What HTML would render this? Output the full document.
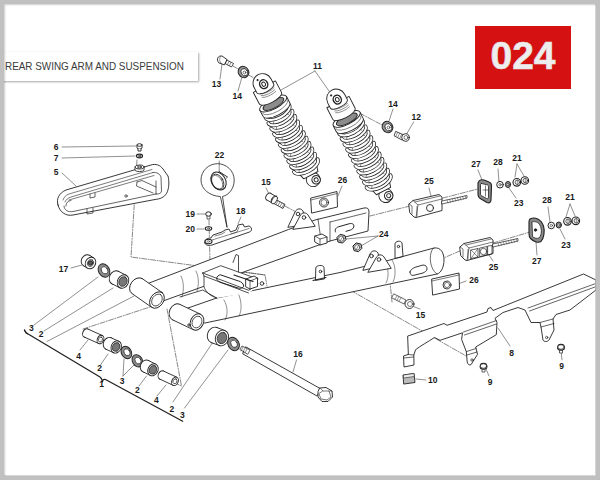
<!DOCTYPE html>
<html><head><meta charset="utf-8">
<style>
html,body{margin:0;padding:0;}
body{width:600px;height:480px;background:#fff;position:relative;overflow:hidden;font-family:"Liberation Sans",sans-serif;}
#title{position:absolute;left:-10px;top:52px;width:208px;height:29px;background:#fff;box-shadow:1px 1px 2px rgba(0,0,0,0.35);}
#title span{position:absolute;left:15px;top:7.5px;font-size:11px;color:#3a3a3a;white-space:nowrap;transform:scaleX(0.9);transform-origin:0 0;}
#badge{position:absolute;left:475px;top:26px;width:96px;height:63px;background:#d51111;}
#badge span{position:absolute;left:0;width:96px;top:11px;text-align:center;font-size:39px;font-weight:bold;color:#eeeeee;line-height:38px;-webkit-text-stroke:0.6px #e2e2e2;}
#frame{position:absolute;left:0;top:0;width:600px;height:480px;box-sizing:border-box;border-style:solid;border-color:#c0c0c0;border-width:4px;}
#frame:after{content:"";position:absolute;left:0;top:0;right:0;bottom:0;box-shadow:inset 1px 1px 2px rgba(0,0,0,0.2), inset -1px -1px 0 rgba(190,190,190,0.6);}
svg{position:absolute;left:0;top:0;}
svg .lab text{font-family:"Liberation Sans",sans-serif;font-size:8.5px;font-weight:bold;fill:#1a1a1a;stroke:none;text-anchor:middle;}
svg .ldr path{stroke:#555;stroke-width:0.65;}
svg .dsh path{stroke:#555;stroke-width:0.7;stroke-dasharray:5 1.5 1 1.5;}
svg .w{fill:#fff;}
svg .cb{stroke:#222;stroke-width:3.6;}
svg .cw{stroke:#fff;stroke-width:2.1;}
</style></head><body>
<svg width="600" height="480" viewBox="0 0 600 480" fill="none" stroke="#222" stroke-width="0.9" stroke-linejoin="round" stroke-linecap="round">
<g class="ldr"><path d="M220.0,79.0 L222.0,64.0"/><path d="M238.0,91.0 L242.0,77.0"/><path d="M315.0,71.0 L281.0,90.0"/><path d="M315.0,71.0 L329.0,91.0"/><path d="M393.0,109.0 L389.0,121.0"/><path d="M413.7,122.0 L406.3,134.5"/><path d="M62.0,147.0 L136.0,146.0"/><path d="M62.0,158.0 L135.0,156.0"/><path d="M62.0,173.0 L76.0,186.0"/><path d="M219.2,161.0 L219.2,171.0"/><path d="M266.0,188.0 L270.0,196.0"/><path d="M342.0,186.0 L338.0,196.0"/><path d="M197.0,214.0 L205.0,214.0"/><path d="M197.0,229.0 L204.0,229.0"/><path d="M241.0,217.0 L238.0,224.0"/><path d="M71.0,268.0 L82.0,265.0"/><path d="M378.0,236.0 L346.0,239.0"/><path d="M378.0,236.0 L361.0,246.0"/><path d="M429.0,188.0 L431.0,196.0"/><path d="M478.0,170.0 L482.0,180.0"/><path d="M498.0,169.0 L499.0,182.0"/><path d="M517.0,164.0 L515.0,177.0"/><path d="M517.0,164.0 L524.0,176.0"/><path d="M516.0,198.0 L509.0,188.0"/><path d="M493.0,261.0 L489.0,255.0"/><path d="M537.0,255.0 L536.0,242.0"/><path d="M548.0,207.0 L550.0,222.0"/><path d="M570.0,204.0 L566.0,217.0"/><path d="M570.0,204.0 L575.0,216.0"/><path d="M565.0,239.0 L560.0,229.0"/><path d="M466.0,281.0 L458.0,284.0"/><path d="M420.0,309.0 L412.0,306.0"/><path d="M510.0,346.0 L498.0,328.0"/><path d="M489.0,376.0 L486.0,369.0"/><path d="M562.0,360.0 L561.0,350.0"/><path d="M426.0,380.0 L416.0,379.0"/><path d="M296.5,360.0 L293.0,372.0"/><path d="M34.0,325.0 L98.0,277.0"/><path d="M44.0,331.0 L113.0,288.0"/><path d="M47.0,341.5 L134.0,296.0"/><path d="M80.0,350.0 L88.0,340.0"/><path d="M100.5,365.0 L108.0,354.0"/><path d="M123.0,376.0 L124.0,359.0"/><path d="M123.0,376.0 L134.0,365.0"/><path d="M139.0,386.0 L146.5,376.0"/><path d="M157.0,396.0 L166.0,385.0"/><path d="M173.0,402.0 L213.0,342.0"/><path d="M184.5,408.0 L228.0,350.0"/></g>
<g class="dsh"><path d="M233.0,66.0 L254.0,78.0"/><path d="M352.0,109.0 L382.0,125.0"/><path d="M137.0,160.0 L131.0,257.0 L265.0,275.0 L267.0,286.0"/><path d="M209.0,220.0 L210.0,262.0"/><path d="M83.0,329.0 L150.0,307.0"/><path d="M167.0,309.0 L181.5,386.0 L175.0,383.0"/><path d="M265.0,275.0 L200.0,266.0"/><path d="M443.0,198.0 L478.0,189.0"/><path d="M370.0,216.0 L410.0,206.0"/><path d="M493.0,243.0 L530.0,232.0"/><path d="M439.0,260.0 L462.0,250.0"/><path d="M302.0,222.0 L340.0,237.0"/><path d="M285.0,206.0 L296.0,212.0"/><path d="M388.0,262.0 L392.0,302.0"/><path d="M327.0,277.0 L468.0,357.0"/></g>
<g transform="translate(263,84) rotate(-27.7)"><circle cx="0" cy="108" r="7" class="w"/><circle cx="2.5" cy="109.5" r="4.2" class="w" stroke-width="1.1"/><circle cx="2.5" cy="109.5" r="2" class="w"/><path d="M-10,96 L-8,103 L8,103 L10,96" class="w"/><path d="M-13,30 L-13,95 L13,95 L13,30 Z" fill="#fff" stroke="none"/><path d="M-9,95.0 A9,4 0 0 1 9,95.0" stroke-width="0.5" stroke-dasharray="2 1.5"/><path d="M-13.5,92.0 A13.5,6.5 0 0 0 13.5,92.0" class="cb"/><path d="M-13.5,92.0 A13.5,6.5 0 0 0 13.5,92.0" class="cw"/><path d="M-9,88.9 A9,4 0 0 1 9,88.9" stroke-width="0.5" stroke-dasharray="2 1.5"/><path d="M-13.5,85.9 A13.5,6.5 0 0 0 13.5,85.9" class="cb"/><path d="M-13.5,85.9 A13.5,6.5 0 0 0 13.5,85.9" class="cw"/><path d="M-9,82.8 A9,4 0 0 1 9,82.8" stroke-width="0.5" stroke-dasharray="2 1.5"/><path d="M-13.5,79.8 A13.5,6.5 0 0 0 13.5,79.8" class="cb"/><path d="M-13.5,79.8 A13.5,6.5 0 0 0 13.5,79.8" class="cw"/><path d="M-9,76.7 A9,4 0 0 1 9,76.7" stroke-width="0.5" stroke-dasharray="2 1.5"/><path d="M-13.5,73.7 A13.5,6.5 0 0 0 13.5,73.7" class="cb"/><path d="M-13.5,73.7 A13.5,6.5 0 0 0 13.5,73.7" class="cw"/><path d="M-9,70.6 A9,4 0 0 1 9,70.6" stroke-width="0.5" stroke-dasharray="2 1.5"/><path d="M-13.5,67.6 A13.5,6.5 0 0 0 13.5,67.6" class="cb"/><path d="M-13.5,67.6 A13.5,6.5 0 0 0 13.5,67.6" class="cw"/><path d="M-9,64.5 A9,4 0 0 1 9,64.5" stroke-width="0.5" stroke-dasharray="2 1.5"/><path d="M-13.5,61.5 A13.5,6.5 0 0 0 13.5,61.5" class="cb"/><path d="M-13.5,61.5 A13.5,6.5 0 0 0 13.5,61.5" class="cw"/><path d="M-9,58.4 A9,4 0 0 1 9,58.4" stroke-width="0.5" stroke-dasharray="2 1.5"/><path d="M-13.5,55.4 A13.5,6.5 0 0 0 13.5,55.4" class="cb"/><path d="M-13.5,55.4 A13.5,6.5 0 0 0 13.5,55.4" class="cw"/><path d="M-9,52.3 A9,4 0 0 1 9,52.3" stroke-width="0.5" stroke-dasharray="2 1.5"/><path d="M-13.5,49.3 A13.5,6.5 0 0 0 13.5,49.3" class="cb"/><path d="M-13.5,49.3 A13.5,6.5 0 0 0 13.5,49.3" class="cw"/><path d="M-9,46.2 A9,4 0 0 1 9,46.2" stroke-width="0.5" stroke-dasharray="2 1.5"/><path d="M-13.5,43.2 A13.5,6.5 0 0 0 13.5,43.2" class="cb"/><path d="M-13.5,43.2 A13.5,6.5 0 0 0 13.5,43.2" class="cw"/><path d="M-9,40.1 A9,4 0 0 1 9,40.1" stroke-width="0.5" stroke-dasharray="2 1.5"/><path d="M-13.5,37.1 A13.5,6.5 0 0 0 13.5,37.1" class="cb"/><path d="M-13.5,37.1 A13.5,6.5 0 0 0 13.5,37.1" class="cw"/><path d="M-9,34.0 A9,4 0 0 1 9,34.0" stroke-width="0.5" stroke-dasharray="2 1.5"/><path d="M-13.5,31.0 A13.5,6.5 0 0 0 13.5,31.0" class="cb"/><path d="M-13.5,31.0 A13.5,6.5 0 0 0 13.5,31.0" class="cw"/><path d="M-15,22 L-15,29 A15,5.5 0 0 0 15,29 L15,22 Z" class="w"/><path d="M-14,26 A14,5 0 0 0 14,26" stroke-width="0.5"/><ellipse cx="0" cy="22" rx="15" ry="5.5" class="w"/><ellipse cx="0" cy="22.5" rx="11.5" ry="4.2" fill="#8c8c8c" stroke="#222"/><path d="M-12.5,3 L-12.5,16 A12.5,4.5 0 0 0 12.5,16 L12.5,3 Z" class="w"/><path d="M-7,3.5 A9,3 0 0 0 8,4.5" stroke-width="0.45"/><path d="M-7,5.5 A9,3 0 0 0 8,6.5" stroke-width="0.45"/><path d="M-7,7.5 A9,3 0 0 0 8,8.5" stroke-width="0.45"/><path d="M-7,9.5 A9,3 0 0 0 8,10.5" stroke-width="0.45"/><path d="M-7,11.5 A9,3 0 0 0 8,12.5" stroke-width="0.45"/><path d="M-9.5,5 L-9.5,-1 A9.5,9.5 0 0 1 9.5,-1 L9.5,5 A9.5,3.5 0 0 1 -9.5,5 Z" class="w"/><ellipse cx="0.5" cy="0.5" rx="4" ry="4.5" class="w" stroke-width="1.4"/><ellipse cx="0.5" cy="0.5" rx="1.8" ry="2.2"/><circle cx="-3" cy="-6" r="0.6" fill="#222"/></g>
<g transform="translate(336.6,99.4) rotate(-27.1)"><circle cx="0" cy="108" r="7" class="w"/><circle cx="2.5" cy="109.5" r="4.2" class="w" stroke-width="1.1"/><circle cx="2.5" cy="109.5" r="2" class="w"/><path d="M-10,96 L-8,103 L8,103 L10,96" class="w"/><path d="M-13,30 L-13,95 L13,95 L13,30 Z" fill="#fff" stroke="none"/><path d="M-9,95.0 A9,4 0 0 1 9,95.0" stroke-width="0.5" stroke-dasharray="2 1.5"/><path d="M-13.5,92.0 A13.5,6.5 0 0 0 13.5,92.0" class="cb"/><path d="M-13.5,92.0 A13.5,6.5 0 0 0 13.5,92.0" class="cw"/><path d="M-9,88.9 A9,4 0 0 1 9,88.9" stroke-width="0.5" stroke-dasharray="2 1.5"/><path d="M-13.5,85.9 A13.5,6.5 0 0 0 13.5,85.9" class="cb"/><path d="M-13.5,85.9 A13.5,6.5 0 0 0 13.5,85.9" class="cw"/><path d="M-9,82.8 A9,4 0 0 1 9,82.8" stroke-width="0.5" stroke-dasharray="2 1.5"/><path d="M-13.5,79.8 A13.5,6.5 0 0 0 13.5,79.8" class="cb"/><path d="M-13.5,79.8 A13.5,6.5 0 0 0 13.5,79.8" class="cw"/><path d="M-9,76.7 A9,4 0 0 1 9,76.7" stroke-width="0.5" stroke-dasharray="2 1.5"/><path d="M-13.5,73.7 A13.5,6.5 0 0 0 13.5,73.7" class="cb"/><path d="M-13.5,73.7 A13.5,6.5 0 0 0 13.5,73.7" class="cw"/><path d="M-9,70.6 A9,4 0 0 1 9,70.6" stroke-width="0.5" stroke-dasharray="2 1.5"/><path d="M-13.5,67.6 A13.5,6.5 0 0 0 13.5,67.6" class="cb"/><path d="M-13.5,67.6 A13.5,6.5 0 0 0 13.5,67.6" class="cw"/><path d="M-9,64.5 A9,4 0 0 1 9,64.5" stroke-width="0.5" stroke-dasharray="2 1.5"/><path d="M-13.5,61.5 A13.5,6.5 0 0 0 13.5,61.5" class="cb"/><path d="M-13.5,61.5 A13.5,6.5 0 0 0 13.5,61.5" class="cw"/><path d="M-9,58.4 A9,4 0 0 1 9,58.4" stroke-width="0.5" stroke-dasharray="2 1.5"/><path d="M-13.5,55.4 A13.5,6.5 0 0 0 13.5,55.4" class="cb"/><path d="M-13.5,55.4 A13.5,6.5 0 0 0 13.5,55.4" class="cw"/><path d="M-9,52.3 A9,4 0 0 1 9,52.3" stroke-width="0.5" stroke-dasharray="2 1.5"/><path d="M-13.5,49.3 A13.5,6.5 0 0 0 13.5,49.3" class="cb"/><path d="M-13.5,49.3 A13.5,6.5 0 0 0 13.5,49.3" class="cw"/><path d="M-9,46.2 A9,4 0 0 1 9,46.2" stroke-width="0.5" stroke-dasharray="2 1.5"/><path d="M-13.5,43.2 A13.5,6.5 0 0 0 13.5,43.2" class="cb"/><path d="M-13.5,43.2 A13.5,6.5 0 0 0 13.5,43.2" class="cw"/><path d="M-9,40.1 A9,4 0 0 1 9,40.1" stroke-width="0.5" stroke-dasharray="2 1.5"/><path d="M-13.5,37.1 A13.5,6.5 0 0 0 13.5,37.1" class="cb"/><path d="M-13.5,37.1 A13.5,6.5 0 0 0 13.5,37.1" class="cw"/><path d="M-9,34.0 A9,4 0 0 1 9,34.0" stroke-width="0.5" stroke-dasharray="2 1.5"/><path d="M-13.5,31.0 A13.5,6.5 0 0 0 13.5,31.0" class="cb"/><path d="M-13.5,31.0 A13.5,6.5 0 0 0 13.5,31.0" class="cw"/><path d="M-15,22 L-15,29 A15,5.5 0 0 0 15,29 L15,22 Z" class="w"/><path d="M-14,26 A14,5 0 0 0 14,26" stroke-width="0.5"/><ellipse cx="0" cy="22" rx="15" ry="5.5" class="w"/><ellipse cx="0" cy="22.5" rx="11.5" ry="4.2" fill="#8c8c8c" stroke="#222"/><path d="M-12.5,3 L-12.5,16 A12.5,4.5 0 0 0 12.5,16 L12.5,3 Z" class="w"/><path d="M-7,3.5 A9,3 0 0 0 8,4.5" stroke-width="0.45"/><path d="M-7,5.5 A9,3 0 0 0 8,6.5" stroke-width="0.45"/><path d="M-7,7.5 A9,3 0 0 0 8,8.5" stroke-width="0.45"/><path d="M-7,9.5 A9,3 0 0 0 8,10.5" stroke-width="0.45"/><path d="M-7,11.5 A9,3 0 0 0 8,12.5" stroke-width="0.45"/><path d="M-9.5,5 L-9.5,-1 A9.5,9.5 0 0 1 9.5,-1 L9.5,5 A9.5,3.5 0 0 1 -9.5,5 Z" class="w"/><ellipse cx="0.5" cy="0.5" rx="4" ry="4.5" class="w" stroke-width="1.4"/><ellipse cx="0.5" cy="0.5" rx="1.8" ry="2.2"/><circle cx="-3" cy="-6" r="0.6" fill="#222"/></g>
<g><path class="w" d="M58,205 C56,199 59,193 66,190 L151,165 C156,163.5 160,165 163,169 L168,176 C169.5,182 169,189 166.5,193.5 C164,197.5 160,199 155,199.5 L73,215 C66,216.5 59.5,212 58,205 Z"/><path d="M63,200 C64,197 66,195 69,194 L152,169.5 M65,202 C66,199.5 68,198 71,197 L153,172.5 M69,200 L154,175.5" stroke-width="0.6"/><path d="M66,206 C66,203 67.5,201 71,200.5 M64,206 C64,210 68,212.5 73,211.5 L156,194" stroke-width="0.7"/><path d="M153,172.5 C157,172 160,174 161,177 L161.5,191 C161.5,193 159,194.5 156,194 M156,181 L156,194" stroke-width="0.7"/><path d="M137,182 L142,180.5 L156,187 M137,182 L136.5,186 L153,193" stroke-width="0.7"/><path d="M90,194 L90,198 L95,197 L95,193" stroke-width="0.7"/><path d="M87,209 L87,214 L93,213 L93,208" stroke-width="0.7"/><circle cx="126" cy="196" r="1.2" stroke-width="0.7"/><path d="M135,167 L135,170 C135,172 144,172 144,170 L144,167" class="w"/><ellipse cx="139.5" cy="167" rx="4.5" ry="2" class="w"/><ellipse cx="139.5" cy="167" rx="2" ry="1" /><path d="M137,145 L137,148 C137,149.5 142,149.5 142,148 L142,145" class="w"/><ellipse cx="139.5" cy="145" rx="2.5" ry="1.3" class="w"/><path d="M138,149 L138,151 L141,151 L141,149" class="w"/><ellipse cx="139.5" cy="156" rx="3" ry="1.8" class="w" stroke-width="1.2"/><ellipse cx="139.5" cy="156" rx="1" ry="0.7"/></g>
<g><path class="w" d="M144,285 L288.5,229.5 L315,220 L364,208 Q369,207 369,212 L368,231 L330,241 L163,301 Z"/><path d="M330,222 L330,241 M330,222 L366,213 M318,219 L321,240" stroke-width="0.7"/><path d="M346,231.3 L350.5,230 C354,229 355,225 352.5,223.8 C351.5,223.3 350,223.5 349,223.8 L338.5,226.8 C335.5,227.6 334.5,230.5 335.5,232" stroke-width="1"/><path d="M181,276 C184,282 184,290 182,297 M196,271 C199,277 199,285 197,291" stroke-width="0.5"/><path class="w" d="M315,236 L322,234 L327,237 L327,243 L320,245 L315,242 Z"/><path d="M315,236 L320,239 L327,237 M320,239 L320,245" stroke-width="0.7"/><path class="w" d="M288,227 L295,212 C297,208 301,208 303,211 L306,224 Z"/><path class="w" d="M293,229 L300,216 C302,212 306,212 308,215 L315,226 Z"/><circle cx="298" cy="214" r="1.8"/><circle cx="304" cy="217.5" r="1.8"/><path class="w" d="M188,308 L216.7,298 L340,272.5 L388,260.5 L434,248 C441,247 444,253 444,260 C444,267 441,273 437,274 L205,323 Z"/><path d="M434,248 C429,250 428,268 437,274" stroke-width="0.7"/><path d="M224,300 C228,307 228,315 225,320 M238,293 C242,301 242,311 239,316 M385,262 C389,268 389,278 386,283 M392,260 C396,266 396,276 393,282" stroke-width="0.5"/><path d="M410,272 C410,270 413,268 416,267 L423,265 C426,265 427,267 427,269 C427,271 425,272 423,273 L415,275 C412,276 410,275 410,272 Z" stroke-width="0.9"/><path class="w" d="M395,258 L395,244 C395,241 401,240 402,243 L403,256 Z"/><circle cx="398.5" cy="246.5" r="1.2"/><path class="w" d="M315.5,280 L315.8,268 C316,265 323.5,264.5 324,267.5 L324.5,278.5 Z"/><circle cx="320.5" cy="271.5" r="1.3"/><path d="M313,280.5 L326,277.5" stroke-width="1.1"/><path class="w" d="M363,270 L370,254 C372,250 376,250 378,253 L381,266 Z"/><path class="w" d="M368,272 L376,258 C378,254 382,254 384,257 L391,268 Z"/><circle cx="371.5" cy="256" r="1.8"/><circle cx="379" cy="259.5" r="1.8"/><path class="w" d="M202.7,273 L220.7,265.7 L258,279 L257,287 L248.7,293 L216.7,298 L204,288 Z" stroke="none"/><path d="M202.7,273 L220.7,265.7 L258,279 M202.7,273 L248.7,290.3 L258,284 M204,276 L248.5,293 M202.7,273 L204,276 L204,287 C206,292 210,296 216.7,298 M180,297 L202.7,290 L216.7,298" stroke-width="0.8"/><path class="w" d="M233,262.5 L236,254.5 L238.5,255.5 L238.5,272" stroke-width="0.8"/><path d="M218,276 C215,278 217,281 221,282.5 L238,288 C242,289 245,287 243,284 C242,282 239,281 237,280.5 L221,275 C220,274.5 219,275 218,276 Z" stroke-width="1"/><path class="w" d="M246,279 L254,276 L257.5,278 L257.5,286.5 L250,289 L246,287 Z"/><path d="M246,279 L250,281 L257.5,278 M250,281 L250,289" stroke-width="0.7"/><circle cx="262" cy="283.5" r="1.8"/><path d="M234,275 L253,281.5" stroke-width="1.2"/><ellipse cx="137.0" cy="286.0" rx="9" ry="6.5" transform="rotate(-55.0 137.0 286.0)" class="w"/><path d="M142.2,278.6 L162.2,292.6 L151.8,307.4 L131.8,293.4 Z" class="w" stroke="none"/><path d="M142.2,278.6 L162.2,292.6 M131.8,293.4 L151.8,307.4"/><ellipse cx="157.0" cy="300.0" rx="9" ry="6.5" transform="rotate(-55.0 157.0 300.0)" class="w"/><ellipse cx="157.0" cy="300.0" rx="6.5" ry="4.7" transform="rotate(-55.0 157.0 300.0)" stroke-width="0.7"/><ellipse cx="176.0" cy="312.0" rx="8.5" ry="6.5" transform="rotate(-64.5 176.0 312.0)" class="w"/><path d="M179.7,304.3 L200.7,314.3 L193.3,329.7 L172.3,319.7 Z" class="w" stroke="none"/><path d="M179.7,304.3 L200.7,314.3 M172.3,319.7 L193.3,329.7"/><ellipse cx="197.0" cy="322.0" rx="8.5" ry="6.5" transform="rotate(-64.5 197.0 322.0)" class="w"/><ellipse cx="197.0" cy="322.0" rx="6.1" ry="4.7" transform="rotate(-64.5 197.0 322.0)" stroke-width="0.7"/><circle cx="189" cy="325" r="1.2"/></g>
<g><ellipse cx="86.5" cy="260.5" rx="6" ry="5" transform="rotate(-58.0 86.5 260.5)" class="w"/><path d="M89.7,255.4 L93.7,257.9 L87.3,268.1 L83.3,265.6 Z" class="w" stroke="none"/><path d="M89.7,255.4 L93.7,257.9 M83.3,265.6 L87.3,268.1"/><ellipse cx="90.5" cy="263.0" rx="6" ry="5" transform="rotate(-58.0 90.5 263.0)" class="w"/><ellipse cx="90.5" cy="263" rx="3.6" ry="3.0" transform="rotate(-58.0 90.5 263)" stroke-width="0.7"/><circle cx="90.5" cy="263" r="2.3" fill="#555"/><ellipse cx="104" cy="270.5" rx="5.5" ry="7" transform="rotate(-30 104 270.5)" fill="#8a8a8a" stroke="#222"/><ellipse cx="104.6" cy="270.5" rx="3.0" ry="3.9" transform="rotate(-30 104 270.5)" class="w" stroke-width="0.7"/><ellipse cx="115.0" cy="277.5" rx="7" ry="5.5" transform="rotate(-63.4 115.0 277.5)" class="w"/><path d="M118.1,271.2 L126.1,275.2 L119.9,287.8 L111.9,283.8 Z" class="w" stroke="none"/><path d="M118.1,271.2 L126.1,275.2 M111.9,283.8 L119.9,287.8"/><ellipse cx="123.0" cy="281.5" rx="7" ry="5.5" transform="rotate(-63.4 123.0 281.5)" class="w"/><ellipse cx="123" cy="281.5" rx="5.0" ry="4.0" transform="rotate(-63.4 123 281.5)" fill="#777" stroke="#222" stroke-width="0.7"/><ellipse cx="86.0" cy="333.0" rx="4.4" ry="3.2" transform="rotate(-65.9 86.0 333.0)" class="w"/><path d="M87.8,329.0 L102.3,335.5 L98.7,343.5 L84.2,337.0 Z" class="w" stroke="none"/><path d="M87.8,329.0 L102.3,335.5 M84.2,337.0 L98.7,343.5"/><ellipse cx="100.5" cy="339.5" rx="4.4" ry="3.2" transform="rotate(-65.9 100.5 339.5)" class="w"/><ellipse cx="100.5" cy="339.5" rx="2.6" ry="1.9" transform="rotate(-65.9 100.5 339.5)" stroke-width="0.7"/><ellipse cx="108.5" cy="343.5" rx="6.3" ry="5" transform="rotate(-65.6 108.5 343.5)" class="w"/><path d="M111.1,337.8 L118.8,341.3 L113.6,352.7 L105.9,349.2 Z" class="w" stroke="none"/><path d="M111.1,337.8 L118.8,341.3 M105.9,349.2 L113.6,352.7"/><ellipse cx="116.2" cy="347.0" rx="6.3" ry="5" transform="rotate(-65.6 116.2 347.0)" class="w"/><ellipse cx="116.2" cy="347" rx="4.5" ry="3.6" transform="rotate(-65.6 116.2 347)" fill="#777" stroke="#222" stroke-width="0.7"/><ellipse cx="126.4" cy="352.5" rx="5" ry="6.5" transform="rotate(-30 126.4 352.5)" fill="#8a8a8a" stroke="#222"/><ellipse cx="127.0" cy="352.5" rx="2.8" ry="3.6" transform="rotate(-30 126.4 352.5)" class="w" stroke-width="0.7"/><ellipse cx="137.4" cy="360.8" rx="5" ry="6.5" transform="rotate(-30 137.4 360.8)" fill="#8a8a8a" stroke="#222"/><ellipse cx="138.0" cy="360.8" rx="2.8" ry="3.6" transform="rotate(-30 137.4 360.8)" class="w" stroke-width="0.7"/><ellipse cx="145.5" cy="366.0" rx="6.3" ry="5" transform="rotate(-63.1 145.5 366.0)" class="w"/><path d="M148.3,360.4 L155.8,364.2 L150.2,375.4 L142.7,371.6 Z" class="w" stroke="none"/><path d="M148.3,360.4 L155.8,364.2 M142.7,371.6 L150.2,375.4"/><ellipse cx="153.0" cy="369.8" rx="6.3" ry="5" transform="rotate(-63.1 153.0 369.8)" class="w"/><ellipse cx="153" cy="369.8" rx="4.5" ry="3.6" transform="rotate(-63.1 153 369.8)" fill="#777" stroke="#222" stroke-width="0.7"/><ellipse cx="161.5" cy="375.0" rx="4.4" ry="3.2" transform="rotate(-65.0 161.5 375.0)" class="w"/><path d="M163.4,371.0 L176.9,377.3 L173.1,385.3 L159.6,379.0 Z" class="w" stroke="none"/><path d="M163.4,371.0 L176.9,377.3 M159.6,379.0 L173.1,385.3"/><ellipse cx="175.0" cy="381.3" rx="4.4" ry="3.2" transform="rotate(-65.0 175.0 381.3)" class="w"/><ellipse cx="175" cy="381.3" rx="2.6" ry="1.9" transform="rotate(-65.0 175 381.3)" stroke-width="0.7"/><ellipse cx="214.0" cy="335.0" rx="8" ry="6.5" transform="rotate(-69.4 214.0 335.0)" class="w"/><path d="M216.8,327.5 L224.8,330.5 L219.2,345.5 L211.2,342.5 Z" class="w" stroke="none"/><path d="M216.8,327.5 L224.8,330.5 M211.2,342.5 L219.2,345.5"/><ellipse cx="222.0" cy="338.0" rx="8" ry="6.5" transform="rotate(-69.4 222.0 338.0)" class="w"/><ellipse cx="222" cy="338" rx="5.8" ry="4.7" transform="rotate(-69.4 222 338)" fill="#777" stroke="#222" stroke-width="0.7"/><ellipse cx="233.5" cy="344" rx="5.5" ry="7" transform="rotate(-30 233.5 344)" fill="#8a8a8a" stroke="#222"/><ellipse cx="234.1" cy="344" rx="3.0" ry="3.9" transform="rotate(-30 233.5 344)" class="w" stroke-width="0.7"/><path class="w" d="M246,347 L321,389 L317,396 L243,354 Z"/><path class="w" d="M240,349 L242,346 L250,350 L248,354 Z" stroke-width="0.7"/><path d="M243,347 L241,351 M245,348 L243,352 M247,349 L245,353" stroke-width="0.5"/><path class="w" d="M320,388 L326,387.5 L332,391 L332.5,397 L328,401.5 L322,401.5 L318,397 L318,392 Z"/><path d="M323,391 L329,391 L331,397 L327,400 L321,399 L319,394 Z" stroke-width="0.6"/><path d="M320,388 L323,391 M332,391 L329,391" stroke-width="0.5"/><path d="M24.5,330 C25,332 26.5,333.5 29,334.5 L100,377 C101.5,378 102,379.5 102.5,381.5 C103,379.5 104,379 105.5,379.5 L182.7,421.3" stroke-width="1.3" stroke="#222"/><path class="w" d="M225,59 L233.5,63.5 L231.5,67 L223,62.5 Z" stroke-width="0.8"/><path d="M227,60.5 L225.5,63.5 M229,61.5 L227.5,64.5 M231,62.5 L229.5,65.5" stroke-width="0.5"/><path class="w" d="M218.5,62.5 C216,59 218,55.5 222,56 L227,59.5 L224.5,64.5 Z" stroke-width="0.9"/><path d="M220.5,56.5 C219,59 219.5,62 221.5,63.5" stroke-width="0.5"/><ellipse cx="243.5" cy="72" rx="5.2" ry="5.8" transform="rotate(-30 243.5 72)" fill="#999" stroke="#222" stroke-width="1"/><ellipse cx="244.3" cy="72.2" rx="3.2" ry="3.8" transform="rotate(-30 244.3 72.2)" class="w" stroke-width="0.8"/><circle cx="244.5" cy="72.5" r="1.4" stroke-width="0.6"/><ellipse cx="387.5" cy="127" rx="5.2" ry="5.8" transform="rotate(-30 387.5 127)" fill="#999" stroke="#222" stroke-width="1"/><ellipse cx="388.3" cy="127.2" rx="3.2" ry="3.8" transform="rotate(-30 388.3 127.2)" class="w" stroke-width="0.8"/><circle cx="388.5" cy="127.5" r="1.4" stroke-width="0.6"/><path class="w" d="M396,131.5 L404,135 L402,140 L394.5,136 Z" stroke-width="0.8"/><path d="M397.5,132.5 L396,136 M399.5,133.5 L398,137 M401.5,134.5 L400,138" stroke-width="0.5"/><circle cx="405.5" cy="137.5" r="3.8" class="w"/><circle cx="406" cy="137.5" r="2" stroke-width="0.6"/><path class="w" d="M274,198.5 L285,204.5 L283,208.5 L272,202.5 Z" stroke-width="0.8"/><path d="M278,201 L276,204.5 M280,202 L278,205.5 M282,203 L280,206.5 M284,204 L282,207.5" stroke-width="0.5"/><ellipse cx="268.5" cy="196.5" rx="3.8" ry="2.3" transform="rotate(-59.8 268.5 196.5)" class="w"/><path d="M270.4,193.2 L275.9,196.4 L272.1,203.0 L266.6,199.8 Z" class="w" stroke="none"/><path d="M270.4,193.2 L275.9,196.4 M266.6,199.8 L272.1,203.0"/><ellipse cx="274.0" cy="199.7" rx="3.8" ry="2.3" transform="rotate(-59.8 274.0 199.7)" class="w"/><ellipse cx="274.5" cy="200" rx="4.3" ry="2.2" transform="rotate(-60 274.5 200)" class="w" stroke-width="0.8"/><path class="w" d="M394,294 L406,300 L404,304 L392,298 Z" stroke-width="0.7"/><path d="M397,296 L395,299 M399,297 L397,300 M401,298 L399,301" stroke-width="0.5"/><circle cx="409.5" cy="304" r="4.5" class="w"/><circle cx="410" cy="304" r="2.5" stroke-width="0.6"/><polygon points="345.7,239.9 342.5,243.1 338.0,242.0 336.9,237.5 340.1,234.3 344.6,235.4" fill="#c8c8c8" stroke="#222" stroke-width="1"/><circle cx="341.3" cy="238.7" r="2.6" class="w" stroke-width="0.6"/><path d="M340.3,240.7 L342.8,236.7" stroke-width="0.5"/><polygon points="361.7,248.5 358.5,251.7 354.0,250.6 352.9,246.1 356.1,242.9 360.6,244.0" fill="#c8c8c8" stroke="#222" stroke-width="1"/><circle cx="357.3" cy="247.3" r="2.6" class="w" stroke-width="0.6"/><path d="M356.3,249.3 L358.8,245.3" stroke-width="0.5"/><path class="w" d="M311,198 L337,191.5 L337.5,207 L312,213 Z"/><path d="M311,200 L337,193.5" stroke-width="0.6"/><circle cx="324" cy="202.5" r="4.5"/><circle cx="324" cy="202.5" r="3" stroke-width="0.6"/><path class="w" d="M432,279 L459,273 L459.5,289 L433,295 Z"/><path d="M432,281 L459,275" stroke-width="0.6"/><circle cx="447" cy="285" r="4"/><circle cx="447" cy="285" r="2.6" stroke-width="0.6"/><g transform="translate(409,195)"><path class="w" d="M0,9 L4,5.5 L30,-0.5 L33,2 L33,15.5 L7,22.5 L5,22 L1,18 Z"/><path d="M4,5.5 L9,10 L33,4 M9,10 L7,22.5 M0,9 L3,11 L3,19 M6,7 L31,1 M8,11.5 L8,21" stroke-width="0.6"/><circle cx="21" cy="13" r="3.5"/><path class="w" d="M33,6 L58,0.5 L58,3 L33,9 Z" stroke-width="0.7"/><path d="M38.0,5.0 L39.0,8.0" stroke-width="0.4"/><path d="M40.6,4.4 L41.6,7.4" stroke-width="0.4"/><path d="M43.2,3.8 L44.2,6.8" stroke-width="0.4"/><path d="M45.8,3.2 L46.8,6.2" stroke-width="0.4"/><path d="M48.4,2.6 L49.4,5.6" stroke-width="0.4"/><path d="M51.0,2.0 L52.0,5.0" stroke-width="0.4"/><path d="M53.6,1.4 L54.6,4.4" stroke-width="0.4"/><path d="M56.2,0.8 L57.2,3.8" stroke-width="0.4"/></g><g transform="translate(460,238)"><path class="w" d="M0,9 L4,5.5 L30,-0.5 L33,2 L33,15.5 L7,22.5 L5,22 L1,18 Z"/><path d="M4,5.5 L9,10 L33,4 M9,10 L7,22.5 M0,9 L3,11 L3,19 M6,7 L31,1 M8,11.5 L8,21" stroke-width="0.6"/><path d="M11,12 L18,10.5 L18,19 L11,20.5 Z M20,10 L27,8.5 L27,17 L20,18.5 Z M28,8 L32,7.5 L32,16 L28,17 Z" stroke-width="0.7"/><path d="M11,12 L18,19 M18,10.5 L11,20.5" stroke-width="0.5"/><circle cx="23.5" cy="13.5" r="3.2" stroke-width="0.7"/><path class="w" d="M33,6 L58,0.5 L58,3 L33,9 Z" stroke-width="0.7"/><path d="M38.0,5.0 L39.0,8.0" stroke-width="0.4"/><path d="M40.6,4.4 L41.6,7.4" stroke-width="0.4"/><path d="M43.2,3.8 L44.2,6.8" stroke-width="0.4"/><path d="M45.8,3.2 L46.8,6.2" stroke-width="0.4"/><path d="M48.4,2.6 L49.4,5.6" stroke-width="0.4"/><path d="M51.0,2.0 L52.0,5.0" stroke-width="0.4"/><path d="M53.6,1.4 L54.6,4.4" stroke-width="0.4"/><path d="M56.2,0.8 L57.2,3.8" stroke-width="0.4"/></g><path d="M479,181 C480,179.5 482,179.5 484,180 L489,182 C490.5,182.5 491.5,184 491.5,186 L491,200 C491,202.5 489,203.5 487,202.5 L481,199 C479,198 478,196 478,194 L478,183 Z" fill="#8a8a8a" stroke="#222" stroke-width="1.1"/><path d="M481.5,183.5 L487,184.8 C488,185 488.5,185.5 488.5,187 L488.5,197 C488.5,198.5 487.5,199 486.5,198.5 L482,196 C481,195.5 480.5,195 480.5,194 L480.5,184.5 C480.5,183.8 481,183.4 481.5,183.5 Z" class="w" stroke-width="0.8"/><path d="M483,190 L488,190 M485.5,186 L485.5,196" stroke-width="0.6"/><path d="M530,219 C535,216.5 541,219 543.5,226 C545,231 544,238 541,241.5 C538,243.5 533,241 530.5,238.5 C529.5,237.5 529,236 529,234 L529,222 C529,220.5 529.5,219.5 530,219 Z" fill="#8a8a8a" stroke="#222" stroke-width="1.1"/><path d="M532,222 C536,220.5 540,223 541,228 C542,232 541,236 539,238 C537,239 534,238 532.5,236.5 L532,223 Z" class="w" stroke-width="0.8"/><circle cx="535.5" cy="230" r="1.2" fill="#222"/><ellipse cx="500" cy="184.7" rx="3.3" ry="3.3" class="w" stroke-width="1"/><circle cx="500" cy="184.7" r="1.2" stroke-width="0.6"/><ellipse cx="508" cy="184.5" rx="2.6" ry="3" fill="#999" stroke="#222" stroke-width="1"/><circle cx="508" cy="184.5" r="1.2" class="w" stroke-width="0.6"/><circle cx="516.8" cy="182.3" r="3.8" class="w" stroke-width="1.1"/><circle cx="517.3" cy="182.3" r="2.2" stroke-width="0.7"/><path d="M517.3,180.10000000000002 L517.3,184.5" stroke-width="0.5"/><circle cx="524.8" cy="180.5" r="3.8" class="w" stroke-width="1.1"/><circle cx="525.3" cy="180.5" r="2.2" stroke-width="0.7"/><path d="M525.3,178.3 L525.3,182.7" stroke-width="0.5"/><ellipse cx="551.3" cy="225.5" rx="3.3" ry="3.3" class="w" stroke-width="1"/><circle cx="551.3" cy="225.5" r="1.2" stroke-width="0.6"/><ellipse cx="558.8" cy="225" rx="2.6" ry="3" fill="#999" stroke="#222" stroke-width="1"/><circle cx="558.8" cy="225" r="1.2" class="w" stroke-width="0.6"/><circle cx="567.5" cy="221.3" r="3.8" class="w" stroke-width="1.1"/><circle cx="568.0" cy="221.3" r="2.2" stroke-width="0.7"/><path d="M568.0,219.10000000000002 L568.0,223.5" stroke-width="0.5"/><circle cx="575.8" cy="220.8" r="3.8" class="w" stroke-width="1.1"/><circle cx="576.3" cy="220.8" r="2.2" stroke-width="0.7"/><path d="M576.3,218.60000000000002 L576.3,223.0" stroke-width="0.5"/></g>
<g><path class="w" d="M408,336 L444,323.5 L447,325.3 L487,312 L488,308.5 L491,307.5 L493,310.5 L583.5,274 L596,280 L596,290 L570,310 L556,314.5 L553,319 L554,330 L549,340 C547.5,342 544,342 543,340 L541,327 L540,322.5 L531,322.5 L525,310 L518,307.5 L503,312.5 L495,318.3 L497,322.5 L496.3,334.7 L475.7,347 L477.5,354.4 L471,364.7 C469,365.5 467.5,364 467.2,362 L466.3,351.6 L461.6,339.4 L462.5,332.8 L440,340.3 L434.4,337.5 C428,342 420,346 415.6,349.7 L413.8,355 L414,365 L404,367 L403.5,356 L408,354.5 Z"/><path d="M463.5,332 L496.3,320.6 M464.5,335 L496.5,324 M528,308 L595,283.8 M529.5,311 L595,287 M540,322.5 L553,319 M541,327 L554,323.5 M466.3,351.6 L476,348.5 M467,355 L477,352 M408,354.5 L413.8,355 M404,358 L413.5,357" stroke-width="0.7"/><circle cx="472" cy="360" r="1.2" stroke-width="0.7"/><circle cx="546.7" cy="337.5" r="1.2" stroke-width="0.7"/><path class="w" d="M482.0,368 L482.0,372 L485.0,372 L485.0,368" stroke-width="0.7"/><ellipse cx="483.5" cy="366" rx="3.2" ry="2.6" class="w" stroke-width="1.1"/><path d="M480.3,366 L480.3,367.8 C480.3,369.5 486.7,369.5 486.7,367.8 L486.7,366" class="w" stroke-width="1.1"/><ellipse cx="483.5" cy="366" rx="3.2" ry="2.3" class="w" stroke-width="0.8"/><path class="w" d="M559.5,349 L559.5,353 L562.5,353 L562.5,349" stroke-width="0.7"/><ellipse cx="561" cy="347" rx="3.2" ry="2.6" class="w" stroke-width="1.1"/><path d="M557.8,347 L557.8,348.8 C557.8,350.5 564.2,350.5 564.2,348.8 L564.2,347" class="w" stroke-width="1.1"/><ellipse cx="561" cy="347" rx="3.2" ry="2.3" class="w" stroke-width="0.8"/><path d="M403.5,375 L414,373.5 L415,382.5 L404,384 Z" fill="#bbb" stroke="#222" stroke-width="0.9"/><path d="M403.5,375 L414,373.5 L414.3,376.5 L403.8,378 Z" fill="#eee" stroke="#222" stroke-width="0.6"/></g>
<g><path class="w" d="M220,196.5 C210,196 201,189.5 201,180 C201,171 208.5,163.7 217.5,163.7 C226.5,163.7 234.2,171 234.2,180 C234.2,188.5 229,195 222.5,196.5 L227,227 Z" stroke-width="0.8"/><path d="M219.2,163 L219.2,171.5" stroke="#555" stroke-width="0.65"/><ellipse cx="218.5" cy="181" rx="7" ry="9.5" transform="rotate(-30 218.5 181)" class="w" stroke-width="1"/><ellipse cx="217.6" cy="181.8" rx="5.6" ry="8.2" transform="rotate(-30 217.6 181.8)" stroke-width="0.8"/><ellipse cx="217.2" cy="182.2" rx="4.8" ry="7.4" transform="rotate(-30 217.2 182.2)" stroke-width="0.5"/><path d="M219,171.5 L227.5,177 L226.5,178" stroke-width="0.9"/><path class="w" d="M205,243 C204,240 207,238 211,238 L213,235 L222,232 L225,230 L229,229 L230.5,232 L236,230 L238,225 L243,224 L244.5,227 L249,226 C252,227 252.5,231 249.5,232 L212,245 C208,246 205,245 205,243 Z" stroke-width="0.9"/><path d="M212,240 L249,228.5 M215,236 L222,234 L225,232 M231,234 L237,232 L239,227" stroke-width="0.55"/><ellipse cx="208.5" cy="241.5" rx="3.5" ry="2.2" class="w" stroke-width="1.1"/><ellipse cx="208.5" cy="241.5" rx="1.3" ry="0.8" stroke-width="0.5"/><path class="w" d="M207,215 L207,219 L210,219 L210,215" stroke-width="0.7"/><ellipse cx="208.5" cy="214" rx="2.8" ry="2.2" class="w" stroke-width="1"/><ellipse cx="208.5" cy="228.5" rx="3.2" ry="1.8" class="w" stroke-width="1.1"/><ellipse cx="208.5" cy="228.5" rx="1" ry="0.6" stroke-width="0.6"/></g>
<g class="lab"><text x="216.6" y="87.1">13</text><text x="237.3" y="99.0">14</text><text x="317.5" y="68.5">11</text><text x="393.1" y="106.9">14</text><text x="416.3" y="120.3">12</text><text x="56.0" y="149.5">6</text><text x="56.0" y="161.0">7</text><text x="56.0" y="174.5">5</text><text x="219.4" y="157.5">22</text><text x="266.0" y="184.9">15</text><text x="342.4" y="182.6">26</text><text x="190.3" y="217.0">19</text><text x="190.3" y="231.9">20</text><text x="240.8" y="213.5">18</text><text x="63.5" y="271.9">17</text><text x="383.7" y="237.2">24</text><text x="429.0" y="184.2">25</text><text x="476.0" y="166.8">27</text><text x="498.0" y="165.2">28</text><text x="517.0" y="160.5">21</text><text x="518.7" y="206.3">23</text><text x="493.4" y="269.5">25</text><text x="536.8" y="264.0">27</text><text x="547.0" y="203.2">28</text><text x="570.0" y="200.0">21</text><text x="566.0" y="247.5">23</text><text x="474.0" y="283.2">26</text><text x="420.5" y="317.5">15</text><text x="511.7" y="355.8">8</text><text x="490.0" y="385.2">9</text><text x="561.7" y="368.5">9</text><text x="432.7" y="383.2">10</text><text x="298.0" y="357.2">16</text><text x="31.4" y="331.1">3</text><text x="41.0" y="337.1">2</text><text x="78.7" y="359.3">4</text><text x="99.5" y="370.5">2</text><text x="122.0" y="383.7">3</text><text x="101.5" y="386.7">1</text><text x="137.3" y="392.5">2</text><text x="156.3" y="402.8">4</text><text x="171.8" y="412.0">2</text><text x="182.3" y="417.5">3</text></g>
</svg>
<div id="title"><span>REAR SWING ARM AND SUSPENSION</span></div>
<div id="badge"><span>024</span></div>
<div id="frame"></div>
</body></html>
